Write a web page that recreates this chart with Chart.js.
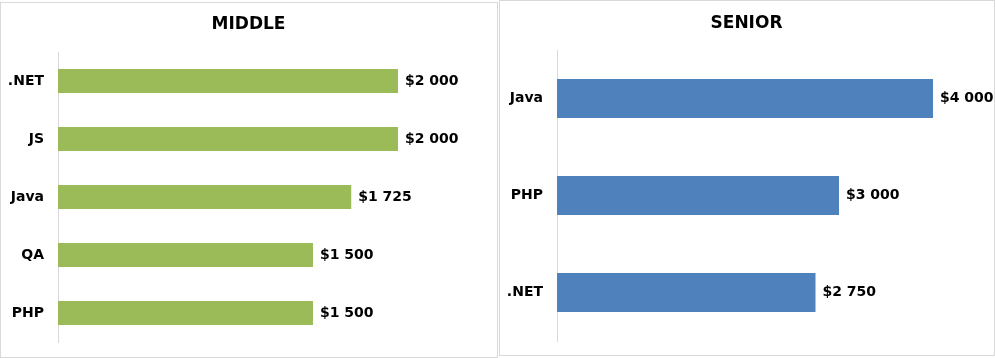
<!DOCTYPE html>
<html>
<head>
<meta charset="utf-8">
<script src="https://cdn.jsdelivr.net/npm/chart.js@4.4.1/dist/chart.umd.min.js"></script>
<style>
  html, body { margin: 0; padding: 0; background: #fff; width: 995px; height: 358px; overflow: hidden; }
  .panel { position: absolute; border: 1px solid #d9d9d9; background: #fff; }
  .cv { position: absolute; }
</style>
</head>
<body>
<div class="panel" style="left:0;top:2px;width:496px;height:354px;"></div>
<div class="panel" style="left:499px;top:0;width:494px;height:354px;"></div>
<div class="cv" style="left:0;top:0;width:497px;height:358px;"><canvas id="c1"></canvas></div>
<div class="cv" style="left:499px;top:0;width:495px;height:356px;"><canvas id="c2"></canvas></div>
<script>
const middleTitle = "MIDDLE";
const middleCategories = [".NET", "JS", "Java", "QA", "PHP"];
const middleValues = [2000, 2000, 1725, 1500, 1500];

const seniorTitle = "SENIOR";
const seniorCategories = ["Java", "PHP", ".NET"];
const seniorValues = [4000, 3000, 2750];

const FONT = "'DejaVu Sans', sans-serif";

function fmt(v) {
  return "$" + String(v).replace(/\B(?=(\d{3})+(?!\d))/g, " ");
}

const valueLabels = {
  id: "valueLabels",
  afterDatasetsDraw(chart) {
    const ctx = chart.ctx;
    ctx.save();
    ctx.font = "bold 14px " + FONT;
    ctx.fillStyle = "#000";
    ctx.textAlign = "left";
    ctx.textBaseline = "middle";
    chart.data.datasets.forEach((ds, di) => {
      chart.getDatasetMeta(di).data.forEach((el, i) => {
        ctx.fillText(fmt(ds.data[i]), el.x + 7, el.y);
      });
    });
    ctx.restore();
  }
};

const centeredTitle = {
  id: "centeredTitle",
  afterDraw(chart, args, opts) {
    const ctx = chart.ctx;
    ctx.save();
    ctx.font = "bold 17px " + FONT;
    ctx.fillStyle = "#000";
    ctx.textAlign = "center";
    ctx.textBaseline = "middle";
    ctx.fillText(opts.text, chart.width / 2, opts.y);
    ctx.restore();
  }
};

function makeChart(id, title, cats, vals, color, xMax, barPct, pad, titleY) {
  return new Chart(document.getElementById(id), {
    type: "bar",
    data: {
      labels: cats,
      datasets: [{ data: vals, backgroundColor: color, borderWidth: 0,
                   categoryPercentage: 1, barPercentage: barPct }]
    },
    options: {
      indexAxis: "y",
      responsive: true,
      maintainAspectRatio: false,
      animation: false,
      layout: { padding: pad },
      plugins: {
        legend: { display: false },
        tooltip: { enabled: false },
        title: { display: false },
        centeredTitle: { text: title, y: titleY }
      },
      scales: {
        x: { display: false, min: 0, max: xMax },
        y: {
          grid: { display: false, drawTicks: false },
          border: { display: true, color: "#d9d9d9", width: 1 },
          ticks: { color: "#000", padding: 14, font: { family: FONT, size: 14, weight: "bold" } },
          afterFit(scale) {
            scale.width = 58;
            scale.paddingTop = 0;
            scale.paddingBottom = 0;
          }
        }
      }
    },
    plugins: [valueLabels, centeredTitle]
  });
}

makeChart("c1", middleTitle, middleCategories, middleValues, "#9BBB59", 2500, 0.414,
  { top: 52, bottom: 16, left: 0, right: 14 }, 25);
makeChart("c2", seniorTitle, seniorCategories, seniorValues, "#4F81BD", 4500, 0.402,
  { top: 50, bottom: 15, left: 0, right: 14 }, 24);
</script>
</body>
</html>
